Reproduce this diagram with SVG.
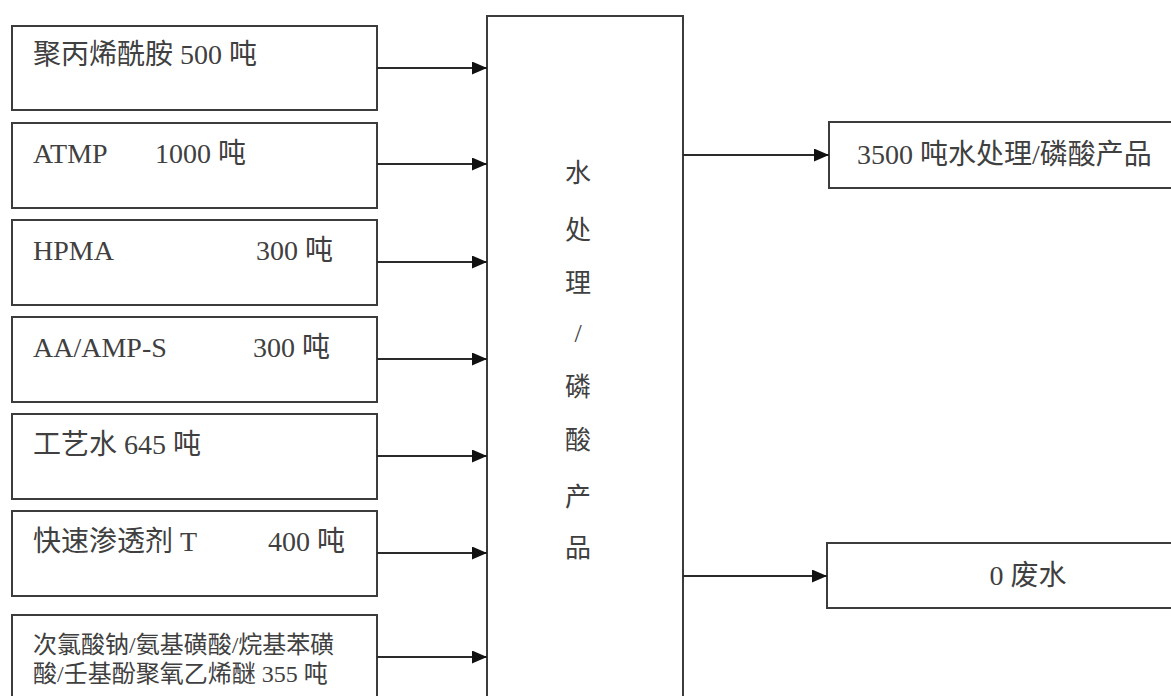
<svg xmlns="http://www.w3.org/2000/svg" width="1171" height="696" viewBox="0 0 1171 696">
<defs>
<style>
.box{fill:#fff;stroke:#3c3c3c;stroke-width:2}
.t{font-family:"Liberation Serif","Noto Sans CJK SC",serif;font-size:28px;fill:#404040}
.s{font-size:24px}
.m{font-size:26px}
.c{text-anchor:middle}
.ln{stroke:#2a2a2a;stroke-width:2;fill:none}
</style>
<marker id="ah" viewBox="0 0 15 13" refX="15" refY="6.5" markerWidth="15" markerHeight="13" markerUnits="userSpaceOnUse" orient="auto">
<path d="M0,0 L15,6.5 L0,13 Z" fill="#111"/>
</marker>
</defs>
<rect width="1171" height="696" fill="#fff"/>
<g id="in1"><rect class="box" x="12" y="26" width="365" height="84"/><text class="t" x="33" y="64">聚丙烯酰胺 500 吨</text></g>
<g id="in2"><rect class="box" x="12" y="123" width="365" height="85"/><text class="t" x="33" y="163">ATMP</text><text class="t" x="155" y="163">1000 吨</text></g>
<g id="in3"><rect class="box" x="12" y="220" width="365" height="85"/><text class="t" x="33" y="260">HPMA</text><text class="t" x="256" y="260">300 吨</text></g>
<g id="in4"><rect class="box" x="12" y="317" width="365" height="85"/><text class="t" x="33" y="357">AA/AMP-S</text><text class="t" x="253" y="357">300 吨</text></g>
<g id="in5"><rect class="box" x="12" y="414" width="365" height="85"/><text class="t" x="33" y="454">工艺水 645 吨</text></g>
<g id="in6"><rect class="box" x="12" y="511" width="365" height="85"/><text class="t" x="33" y="551">快速渗透剂 T</text><text class="t" x="268" y="551">400 吨</text></g>
<g id="in7"><rect class="box" x="12" y="615" width="365" height="100"/><text class="t s" x="33" y="653">次氯酸钠/氨基磺酸/烷基苯磺</text><text class="t s" x="33" y="682">酸/壬基酚聚氧乙烯醚 355 吨</text></g>
<g id="proc"><rect class="box" x="487" y="16" width="196" height="700"/>
<text class="t m c" x="578" y="182">水</text>
<text class="t m c" x="578" y="239">处</text>
<text class="t m c" x="578" y="292">理</text>
<text class="t m c" x="578" y="342">/</text>
<text class="t m c" x="578" y="396">磷</text>
<text class="t m c" x="578" y="449">酸</text>
<text class="t m c" x="578" y="506">产</text>
<text class="t m c" x="578" y="557">品</text>
</g>
<g id="out1"><rect class="box" x="829" y="122" width="360" height="66"/><text class="t" x="857" y="164">3500 吨水处理/磷酸产品</text></g>
<g id="out2"><rect class="box" x="827" y="543" width="360" height="65"/><text class="t c" x="1028" y="585">0 废水</text></g>
<g id="connectors">
<line class="ln" x1="377" y1="68" x2="487" y2="68" marker-end="url(#ah)"/>
<line class="ln" x1="377" y1="164" x2="487" y2="164" marker-end="url(#ah)"/>
<line class="ln" x1="377" y1="262" x2="487" y2="262" marker-end="url(#ah)"/>
<line class="ln" x1="377" y1="359" x2="487" y2="359" marker-end="url(#ah)"/>
<line class="ln" x1="377" y1="456" x2="487" y2="456" marker-end="url(#ah)"/>
<line class="ln" x1="377" y1="553" x2="487" y2="553" marker-end="url(#ah)"/>
<line class="ln" x1="377" y1="657" x2="487" y2="657" marker-end="url(#ah)"/>
<line class="ln" x1="683" y1="155" x2="829" y2="155" marker-end="url(#ah)"/>
<line class="ln" x1="683" y1="576" x2="827" y2="576" marker-end="url(#ah)"/>
</g>
</svg>
